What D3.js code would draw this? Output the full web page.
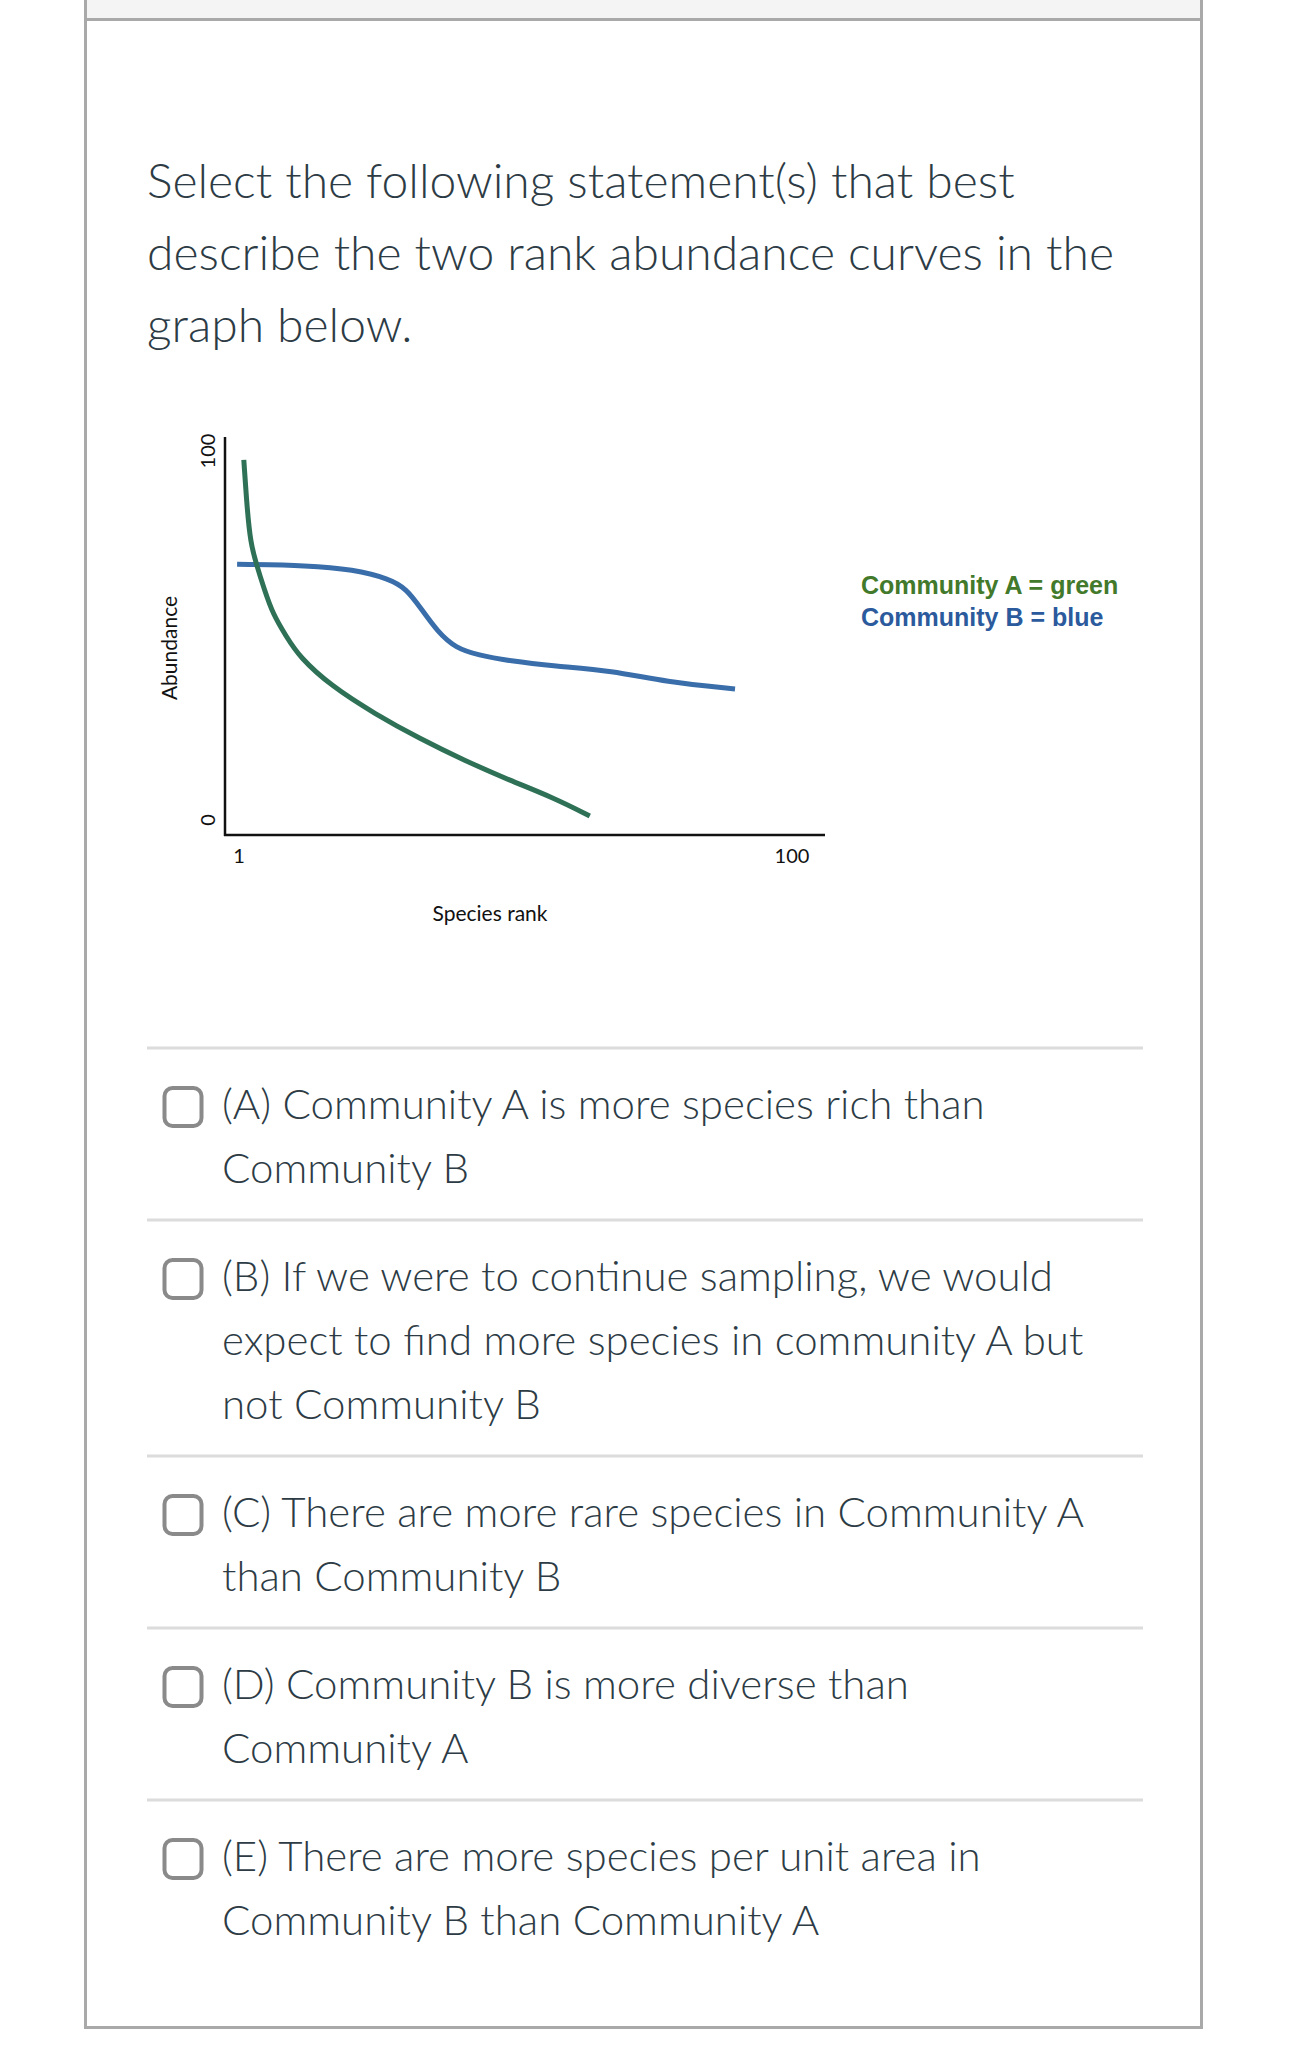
<!DOCTYPE html>
<html>
<head>
<meta charset="utf-8">
<script src="https://cdn.jsdelivr.net/npm/d3@7"></script>
<style>
  html, body { margin: 0; padding: 0; background: #fff; }
  svg { display: block; }
</style>
</head>
<body>
<svg id="page" width="1290" height="2050"></svg>
<script>
// question text, one entry per rendered line
var questionLines = ['Select the following statement(s) that best',
                     'describe the two rank abundance curves in the',
                     'graph below.'];

var answerLines = [
  ['(A) Community A is more species rich than', 'Community B'],
  ['(B) If we were to continue sampling, we would', 'expect to find more species in community A but', 'not Community B'],
  ['(C) There are more rare species in Community A', 'than Community B'],
  ['(D) Community B is more diverse than', 'Community A'],
  ['(E) There are more species per unit area in', 'Community B than Community A']
];

// Community A (green)
var rankA  = [1.86, 2.43, 3.06, 4.1, 5.5, 7.07, 9.4, 11.8, 17.5, 25.4, 33.4, 41.4, 49.4, 57.4, 63.8];
var abundA = [97.6, 84.8, 75.1, 69.4, 62.6, 55.8, 49.9, 44.2, 36.3, 28.7, 22.0, 16.1, 10.8, 6.0, 1.1];
// Community B (blue)
var rankB  = [0.66, 13.5, 21.4, 27.9, 31.0, 33.4, 36.6, 39.8, 43.8, 49.4, 57.4, 67.8, 77.4, 89.8];
var abundB = [69.3, 69.0, 67.9, 65.4, 62.6, 57.7, 50.9, 46.6, 44.7, 43.1, 41.7, 40.5, 37.4, 35.5];

var xTicks = [1, 100];
var yTicks = [0, 100];
var legendLines = ['Community A = green', 'Community B = blue'];

var svg = d3.select('#page');
var textColor = '#2d3b45';

// frame of the quiz card
svg.append('rect').attr('x', 86).attr('y', 0).attr('width', 1115).attr('height', 19).attr('fill', '#f4f4f4');
svg.append('line').attr('x1', 84).attr('x2', 1203).attr('y1', 19.5).attr('y2', 19.5).attr('stroke', '#a9a9a9').attr('stroke-width', 3);
svg.append('line').attr('x1', 85.5).attr('x2', 85.5).attr('y1', 0).attr('y2', 2029).attr('stroke', '#a9a9a9').attr('stroke-width', 3);
svg.append('line').attr('x1', 1201.5).attr('x2', 1201.5).attr('y1', 0).attr('y2', 2029).attr('stroke', '#a9a9a9').attr('stroke-width', 3);
svg.append('line').attr('x1', 84).attr('x2', 1203).attr('y1', 2027.5).attr('y2', 2027.5).attr('stroke', '#a9a9a9').attr('stroke-width', 3);

// question
svg.append('g').selectAll('text')
  .data(questionLines).enter().append('text')
  .attr('x', 147).attr('y', (d, i) => 198 + i*72)
  .attr('font-family', 'Lato').attr('font-weight', 300).attr('font-size', '48px')
  .attr('fill', textColor)
  .text(d => d);

// chart
var x = d3.scaleLinear().domain([1, 100]).range([239, 792]);
var y = d3.scaleLinear().domain([0, 100]).range([820, 451]);
var chart = svg.append('g');

chart.append('line').attr('x1', 225).attr('x2', 225).attr('y1', 437).attr('y2', 836)
  .attr('stroke', '#111').attr('stroke-width', 2.5);
chart.append('line').attr('x1', 224).attr('x2', 825).attr('y1', 835).attr('y2', 835)
  .attr('stroke', '#111').attr('stroke-width', 2.5);

chart.selectAll('.xtick').data(xTicks).enter().append('text')
  .attr('class', 'xtick')
  .attr('x', d => x(d)).attr('y', 863)
  .attr('text-anchor', 'middle')
  .attr('font-family', 'Lato').attr('font-size', '20px').attr('fill', '#111')
  .text(d => d);

chart.selectAll('.ytick').data(yTicks).enter().append('text')
  .attr('class', 'ytick')
  .attr('transform', d => 'translate(215,' + y(d) + ') rotate(-90)')
  .attr('text-anchor', 'middle')
  .attr('font-family', 'Lato').attr('font-size', '20px').attr('fill', '#111')
  .text(d => d);

chart.append('text').attr('x', 490).attr('y', 921)
  .attr('text-anchor', 'middle')
  .attr('font-family', 'Lato').attr('font-size', '21px').attr('fill', '#111')
  .text('Species rank');

chart.append('text').attr('transform', 'translate(177,648) rotate(-90)')
  .attr('text-anchor', 'middle')
  .attr('font-family', 'Lato').attr('font-size', '21px').attr('fill', '#111')
  .text('Abundance');

var line = d3.line().x(d => x(d[0])).y(d => y(d[1])).curve(d3.curveBasis);

chart.append('path')
  .attr('d', line(d3.zip(rankB, abundB)))
  .attr('fill', 'none').attr('stroke', '#3a6eaa').attr('stroke-width', 5);
chart.append('path')
  .attr('d', line(d3.zip(rankA, abundA)))
  .attr('fill', 'none').attr('stroke', '#2f7157').attr('stroke-width', 5);

chart.selectAll('.legend').data(legendLines).enter().append('text')
  .attr('class', 'legend')
  .attr('x', 861).attr('y', (d, i) => 594 + i*32)
  .attr('font-family', 'Liberation Sans, Arial').attr('font-weight', 'bold').attr('font-size', '25px')
  .attr('fill', (d, i) => i == 0 ? '#42792b' : '#2b5a9d')
  .text(d => d);

// answers
var sepY = 1048;
svg.append('line').attr('x1', 147).attr('x2', 1143).attr('y1', sepY).attr('y2', sepY)
  .attr('stroke', '#dcdcdc').attr('stroke-width', 3);

answerLines.forEach(function(lines, k) {
  var base = sepY + 71;
  var g = svg.append('g');
  g.append('rect').attr('x', 164.5).attr('y', base - 31).attr('width', 37).attr('height', 38)
    .attr('rx', 8).attr('fill', '#fff').attr('stroke', '#8a8a8a').attr('stroke-width', 4);
  g.selectAll('text').data(lines).enter().append('text')
    .attr('x', 222).attr('y', (d, i) => base + i*64)
    .attr('font-family', 'Lato').attr('font-weight', 300).attr('font-size', '42px')
    .attr('fill', textColor)
    .text(d => d);
  sepY = base + (lines.length - 1)*64 + 37;
  if (k < answerLines.length - 1) {
    svg.append('line').attr('x1', 147).attr('x2', 1143).attr('y1', sepY).attr('y2', sepY)
      .attr('stroke', '#dcdcdc').attr('stroke-width', 3);
  }
});
</script>
</body>
</html>
